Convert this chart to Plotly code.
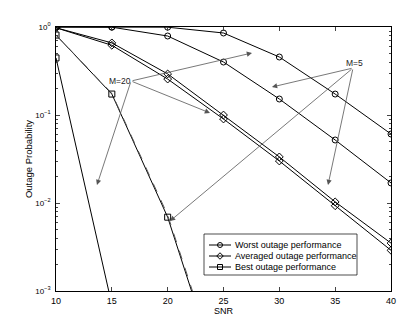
import numpy as np
import plotly.graph_objects as go

snr = [10, 15, 20, 25, 30, 35, 40]

worst_m20 = [1.0, 1.0, 0.995, 0.855, 0.456, 0.173, 0.0608]
worst_m5 = [1.0, 0.995, 0.79, 0.40, 0.152, 0.052, 0.0169]
avg_m20 = [0.98, 0.66, 0.293, 0.100, 0.0334, 0.0103, 0.0035]
avg_m5 = [0.98, 0.62, 0.256, 0.090, 0.0300, 0.0093, 0.0029]
best_m5 = [0.81, 0.173, 0.0069, 9e-5, 1e-6, 1e-8, 1e-10]
best_m5_theory = [0.81, 0.176, 0.0073, 1e-4, 1.2e-6, 1.2e-8, 1.2e-10]
best_m20 = [0.445, 7e-4, 1e-6, 1e-9, 1e-12, 1e-15, 1e-18]

legend_names = ["Worst outage performance", "Averaged outage performance", "Best outage performance"]
legend_symbols = ["circle-open", "diamond-open", "square-open"]

ytick_vals = [1e-3, 1e-2, 1e-1, 1]
ytick_text = ["10<sup>−3</sup>", "10<sup>−2</sup>", "10<sup>−1</sup>", "10<sup>0</sup>"]
xtick_vals = [10, 15, 20, 25, 30, 35, 40]

FONT = "Liberation Sans, Arial, sans-serif"

fig = go.Figure()

def add_line(y, sym, dash="solid", color="black"):
    fig.add_trace(go.Scatter(
        x=snr, y=y, mode="lines+markers" if sym else "lines",
        showlegend=False, hoverinfo="skip",
        line=dict(color=color, width=1, dash=dash),
        marker=dict(symbol=sym or "circle", size=6, color="black",
                    line=dict(color="black", width=1)),
    ))

add_line(worst_m20, "circle-open")
add_line(avg_m20, "diamond-open")
add_line(best_m5, "square-open")
add_line(worst_m5, "circle-open")
add_line(avg_m5, "diamond-open")
add_line(best_m20, "square-open")
add_line(best_m5_theory, None, dash="dash", color="#555")

# --- manual legend drawn on an overlay axis measured in plot pixels ---
LX0, LX1, LY0, LY1 = 204, 357, 234, 275
rows = [245, 256, 267]
fig.add_shape(type="rect", xref="x2", yref="y2", x0=LX0, x1=LX1, y0=LY0, y1=LY1,
              fillcolor="white", line=dict(color="black", width=0.7), layer="below")
for name, sym, r in zip(legend_names, legend_symbols, rows):
    fig.add_trace(go.Scatter(x=[209, 231], y=[r, r], xaxis="x2", yaxis="y2", mode="lines",
                             line=dict(color="black", width=1), showlegend=False, hoverinfo="skip"))
    fig.add_trace(go.Scatter(x=[220], y=[r], xaxis="x2", yaxis="y2", mode="markers",
                             marker=dict(symbol=sym, size=5, color="black", line=dict(color="black", width=1)),
                             showlegend=False, hoverinfo="skip"))
    fig.add_annotation(x=233, y=r, xref="x2", yref="y2", text=name, showarrow=False,
                       xanchor="left", yanchor="middle", font=dict(family=FONT, size=9, color="black"))

ARROW = "#555555"
def arrow(head, tail):
    fig.add_annotation(x=head[0], y=np.log10(head[1]), ax=tail[0], ay=np.log10(tail[1]),
                       xref="x", yref="y", axref="x", ayref="y", text="",
                       showarrow=True, arrowhead=2, arrowsize=1.3, arrowwidth=0.8,
                       arrowcolor=ARROW, standoff=0, startstandoff=0)

m20_tail = (16.72, 10 ** -0.614)
for h in [(27.55, 10 ** -0.295), (23.79, 10 ** -0.977), (13.67, 10 ** -1.795)]:
    arrow(h, m20_tail)
m5_tail = (36.6, 10 ** -0.466)
for h in [(29.34, 10 ** -0.682), (34.36, 10 ** -1.795), (20.21, 10 ** -2.205)]:
    arrow(h, m5_tail)

fig.add_annotation(x=15.73, y=-0.614, xref="x", yref="y", text="M=20", showarrow=False,
                   font=dict(family=FONT, size=8.5, color="#222"))
fig.add_annotation(x=36.69, y=-0.409, xref="x", yref="y", text="M=5", showarrow=False,
                   font=dict(family=FONT, size=8.5, color="#222"))

fig.update_layout(
    width=399, height=316,
    margin=dict(l=56, r=8, t=27, b=25, autoexpand=False),
    paper_bgcolor="white", plot_bgcolor="white",
    font=dict(family=FONT, size=9, color="black"),
    showlegend=False,
    xaxis2=dict(overlaying="x", range=[56, 391], visible=False, fixedrange=True),
    yaxis2=dict(overlaying="y", range=[291, 27], visible=False, fixedrange=True),
    xaxis=dict(range=[10, 40], tickvals=xtick_vals, ticks="inside", ticklen=4,
               showline=True, linecolor="black", linewidth=0.8, mirror="ticks",
               showgrid=False, zeroline=False, ticklabelstandoff=1, automargin=False,
               title=dict(text="SNR", standoff=3, font=dict(size=9)),
               tickfont=dict(size=9)),
    yaxis=dict(type="log", range=[-3, 0], tickvals=ytick_vals, ticktext=ytick_text,
               ticks="inside", ticklen=4,
               minor=dict(ticks="inside", ticklen=2,
                          tickvals=[m * 10 ** e for e in (-3, -2, -1) for m in range(2, 10)],
                          showgrid=False),
               showline=True, linecolor="black", linewidth=0.8, mirror="ticks",
               showgrid=False, zeroline=False, ticklabelstandoff=3, automargin=False,
               title=dict(text="Outage Probability", standoff=0, font=dict(size=9.5)),
               tickfont=dict(size=8)),
)

fig.write_html("out.html", config={"displayModeBar": False},
               post_script="document.body.style.margin='0px';")
